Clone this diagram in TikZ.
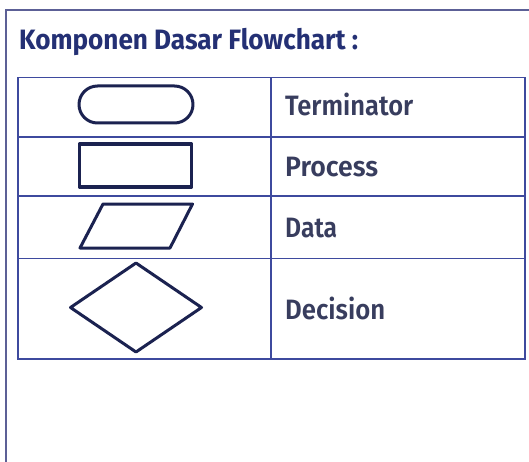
\documentclass[tikz,border=0pt]{standalone}
\usepackage{fontspec}
\setmainfont{Fira Sans}
\newfontfamily\titlefont{Fira Sans Bold}
\newfontfamily\labelfont{Fira Sans SemiBold}
\usetikzlibrary{shapes.misc}
\definecolor{titlec}{HTML}{243074}
\definecolor{labelc}{HTML}{383D5E}
\definecolor{gridc}{HTML}{3E4A9E}
\definecolor{framec}{HTML}{5C6096}
\definecolor{shapec}{HTML}{1B2250}
\newsavebox\fitbox
\newcommand\fitw[2]{\sbox\fitbox{#2}\pgfmathsetmacro\fitr{#1/\wd\fitbox}\scalebox{\fitr}[1]{\usebox\fitbox}}
\begin{document}
\begin{tikzpicture}[x=1pt,y=-1pt,
  gridline/.style={draw=gridc,line width=1.3pt},
  symb/.style={draw=shapec,line width=3pt,line join=round},
  lbl/.style={anchor=base west,inner sep=0pt,text=labelc,font=\labelfont\fontsize{28}{28}\selectfont}]
\useasboundingbox (0,0) rectangle (529,462);
\fill[white] (0,0) rectangle (529,462);
% outer frame
\draw[framec,line width=1.3pt] (6,463) -- (6,10) -- (530,10);
% title
\node[anchor=base west,inner sep=0pt,text=titlec,font=\titlefont\fontsize{28}{28}\selectfont] (title) at (19,49.5) {\fitw{339}{Komponen Dasar Flowchart :}};
% table grid
\draw[gridline] (18,77.5) rectangle (525,359);
\draw[gridline] (271,77.5) -- (271,359);
\draw[gridline] (18,137) -- (525,137);
\draw[gridline] (18,196) -- (525,196);
\draw[gridline] (18,258.5) -- (525,258.5);
% symbols
\node[symb,rounded rectangle,minimum width=114pt,minimum height=37pt,inner sep=0pt] (term) at (136,104.5) {};
\node[symb,rectangle,line width=3.5pt,minimum width=112pt,minimum height=43pt,inner sep=0pt] (proc) at (135.5,165.5) {};
\coordinate (d1) at (103,204);
\coordinate (d2) at (192.5,204);
\coordinate (d3) at (170,248);
\coordinate (d4) at (80,248);
\draw[symb] (d1) -- (d2) -- (d3) -- (d4) -- cycle;
\coordinate (k1) at (136,263);
\coordinate (k2) at (201.5,307.5);
\coordinate (k3) at (136,352);
\coordinate (k4) at (70.5,307.5);
\draw[symb] (k1) -- (k2) -- (k3) -- (k4) -- cycle;
% labels
\node[lbl] (lterm) at (285,116) {\fitw{128}{Terminator}};
\node[lbl] (lproc) at (285,177) {\fitw{93}{Process}};
\node[lbl] (ldata) at (285,237.5) {\fitw{52}{Data}};
\node[lbl] (ldec) at (285,319.5) {\fitw{100}{Decision}};
\end{tikzpicture}
\end{document}
